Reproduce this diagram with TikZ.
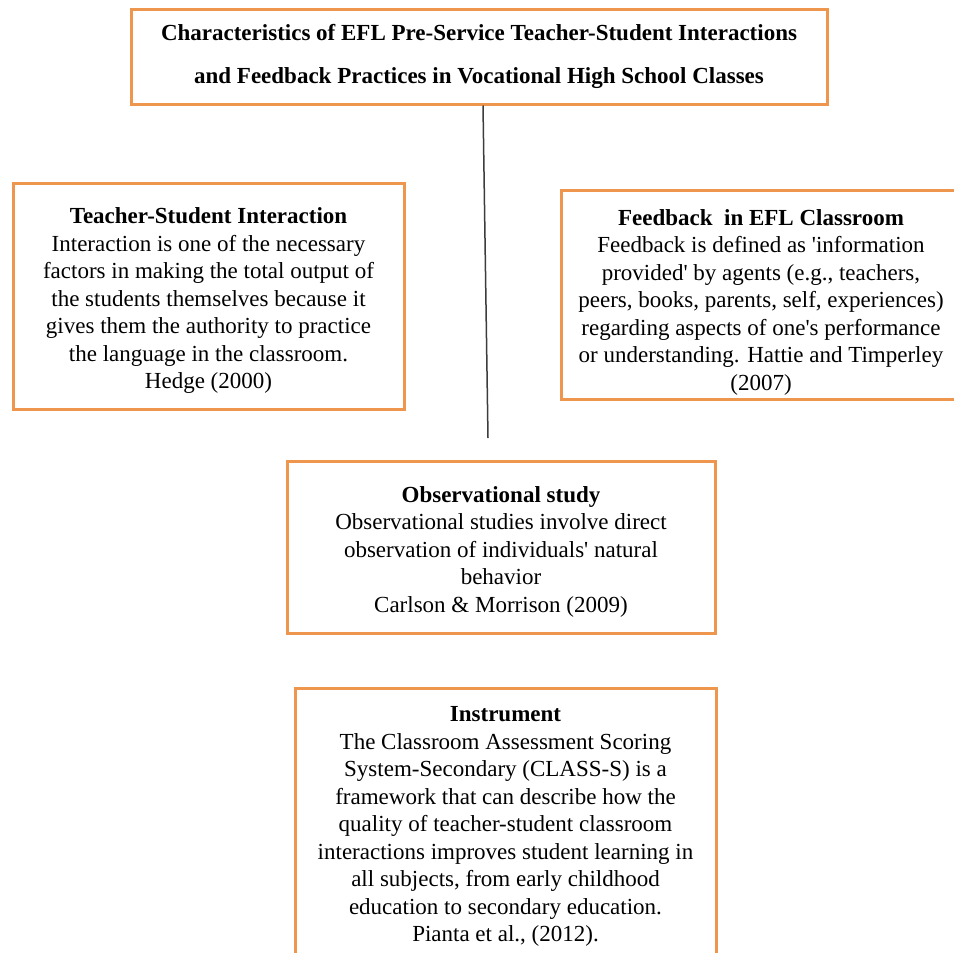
\documentclass[tikz,border=0pt]{standalone}
\usepackage{fontspec}
\setmainfont{Liberation Serif}
\usepackage{xcolor}
\definecolor{boxorange}{RGB}{239,150,78}
\definecolor{stemgray}{RGB}{60,60,60}

\tikzset{
    box/.style={draw=boxorange, line width=3pt, align=center, inner sep=0pt,
        font=\fontsize{23}{27.5}\selectfont},
    headbox/.style={box, font=\fontsize{23}{43}\selectfont\bfseries},
    stem/.style={draw=stemgray, line width=1.5pt}
}

\begin{document}
\begin{tikzpicture}[x=1pt,y=1pt]
        % Marco de la figura
        \clip (0,0) rectangle (954,-953);
        \fill[white] (0,0) rectangle (954,-953);

        % Titulo principal
        \node[headbox, minimum width=696pt, minimum height=95pt] (title) at (479,-56.5)
            {Characteristics of EFL Pre-Service Teacher-Student Interactions\\
             and Feedback Practices in Vocational High School Classes};

        % Cajas laterales
        \node[box, text height=190pt, minimum width=391pt, minimum height=226pt] (interact) at (208.5,-296)
            {\textbf{Teacher-Student Interaction}\\
             Interaction is one of the necessary\\
             factors in making the total output of\\
             the students themselves because it\\
             gives them the authority to practice\\
             the language in the classroom.\\
             Hedge (2000)};
        \node[box, text height=196pt, minimum width=400pt, minimum height=209pt] (feedback) at (761,-294.5)
            {\textbf{Feedback\ \ in EFL Classroom}\\
             Feedback is defined as \textquotesingle information\\
             provided\textquotesingle{} by agents (e.g., teachers,\\
             peers, books, parents, self, experiences)\\
             regarding aspects of one\textquotesingle s performance\\
             or understanding. Hattie and Timperley\\
             (2007)};

        % Linea central
        \coordinate (stemend) at (488,-438);
        \draw[stem] ([xshift=4pt]title.south) -- (stemend);

        % Cajas inferiores
        \node[box, text height=135pt, minimum width=428pt, minimum height=172pt] (observ) at (501,-547)
            {\textbf{Observational study}\\
             Observational studies involve direct\\
             observation of individuals\textquotesingle{} natural\\
             behavior\\
             Carlson \& Morrison (2009)};
        \node[box, text height=239pt, minimum width=421pt, minimum height=272pt, anchor=north] (instrument) at (505.5,-687)
            {\textbf{Instrument}\\
             The Classroom Assessment Scoring\\
             System-Secondary (CLASS-S) is a\\
             framework that can describe how the\\
             quality of teacher-student classroom\\
             interactions improves student learning in\\
             all subjects, from early childhood\\
             education to secondary education.\\
             Pianta et al., (2012).};
\end{tikzpicture}
\end{document}
